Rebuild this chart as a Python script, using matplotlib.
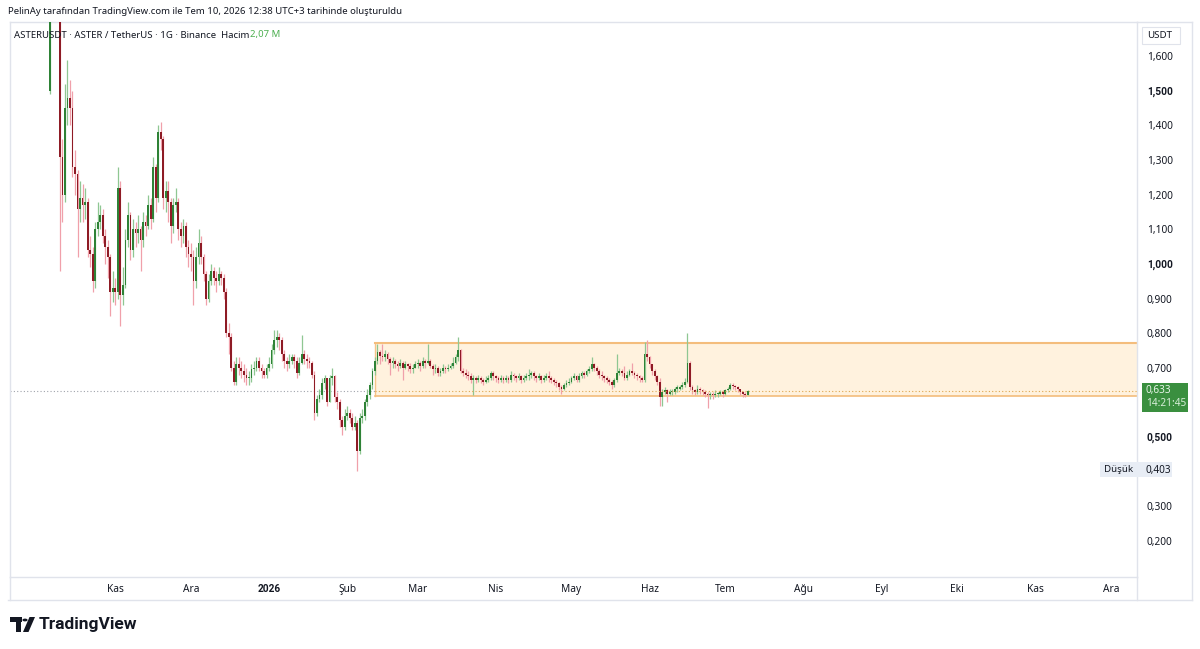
import numpy as np
import pandas as pd
import matplotlib
matplotlib.use("Agg")
import matplotlib.pyplot as plt
import matplotlib.dates as mdates
from matplotlib.patches import Rectangle, Polygon, Circle
from matplotlib.lines import Line2D

plt.rcParams['font.family'] = ['Noto Sans', 'DejaVu Sans']
BOLD_FAMILY = ['Roboto', 'DejaVu Sans']

# daily ASTER/USDT candles, 2025-10-06 .. 2026-07-10
first_open = 1.50
close = [
    1.78, 1.90, 1.86, 1.82, 1.31, 1.20, 1.45, 1.48, 1.45, 1.28,
    1.26, 1.16, 1.19, 1.17, 1.18, 1.04, 1.03, 0.95, 1.10, 1.12,
    1.14, 1.08, 1.05, 1.02, 0.92, 0.93, 0.92, 1.22, 0.91, 0.94,
    1.07, 1.14, 1.04, 1.10, 1.09, 1.10, 1.07, 1.12, 1.11, 1.17,
    1.13, 1.28, 1.19, 1.38, 1.36, 1.19, 1.21, 1.18, 1.11, 1.17,
    1.18, 1.10, 1.08, 1.11, 1.05, 1.03, 1.02, 0.95, 1.02, 1.06,
    1.02, 0.97, 0.90, 0.95, 0.98, 0.96, 0.95, 0.97, 0.96, 0.92,
    0.80, 0.79, 0.70, 0.66, 0.71, 0.70, 0.69, 0.68, 0.67, 0.67,
    0.695, 0.70, 0.72, 0.70, 0.69, 0.68, 0.70, 0.71, 0.75, 0.78,
    0.79, 0.78, 0.74, 0.72, 0.71, 0.72, 0.73, 0.72, 0.685, 0.715,
    0.74, 0.725, 0.72, 0.715, 0.68, 0.57, 0.61, 0.62, 0.655, 0.67,
    0.60, 0.67, 0.675, 0.615, 0.60, 0.55, 0.53, 0.56, 0.57, 0.555,
    0.53, 0.54, 0.46, 0.555, 0.56, 0.60, 0.62, 0.65, 0.69, 0.72,
    0.745, 0.735, 0.73, 0.74, 0.725, 0.715, 0.72, 0.71, 0.705, 0.715,
    0.70, 0.71, 0.705, 0.695, 0.70, 0.71, 0.715, 0.705, 0.72, 0.715,
    0.72, 0.705, 0.695, 0.70, 0.685, 0.69, 0.70, 0.695, 0.70, 0.705,
    0.715, 0.73, 0.75, 0.69, 0.685, 0.68, 0.675, 0.665, 0.67, 0.665,
    0.67, 0.665, 0.66, 0.665, 0.67, 0.685, 0.675, 0.67, 0.665, 0.67,
    0.665, 0.67, 0.665, 0.68, 0.675, 0.67, 0.675, 0.665, 0.67, 0.675,
    0.68, 0.685, 0.675, 0.67, 0.675, 0.665, 0.67, 0.675, 0.67, 0.665,
    0.66, 0.655, 0.645, 0.64, 0.65, 0.655, 0.66, 0.67, 0.675, 0.665,
    0.675, 0.685, 0.68, 0.69, 0.695, 0.71, 0.70, 0.69, 0.68, 0.675,
    0.67, 0.665, 0.66, 0.65, 0.665, 0.685, 0.69, 0.685, 0.67, 0.68,
    0.69, 0.685, 0.68, 0.675, 0.67, 0.665, 0.74, 0.73, 0.71, 0.69,
    0.675, 0.66, 0.615, 0.63, 0.635, 0.625, 0.63, 0.63, 0.64, 0.64,
    0.645, 0.65, 0.66, 0.715, 0.645, 0.635, 0.63, 0.64, 0.635, 0.63,
    0.625, 0.62, 0.625, 0.62, 0.625, 0.625, 0.63, 0.625, 0.635, 0.64,
    0.65, 0.648, 0.645, 0.64, 0.63, 0.625, 0.622, 0.633,
]
high = [
    1.84, 1.98, 1.96, 1.92, 1.86, 1.36, 1.52, 1.59, 1.53, 1.50,
    1.33, 1.27, 1.24, 1.23, 1.22, 1.19, 1.08, 1.05, 1.12, 1.18,
    1.17, 1.16, 1.10, 1.07, 1.03, 0.98, 0.96, 1.28, 1.24, 0.99,
    1.10, 1.18, 1.15, 1.13, 1.12, 1.14, 1.11, 1.15, 1.14, 1.20,
    1.19, 1.31, 1.29, 1.40, 1.41, 1.37, 1.24, 1.24, 1.19, 1.19,
    1.22, 1.19, 1.12, 1.13, 1.12, 1.07, 1.06, 1.04, 1.05, 1.10,
    1.08, 1.03, 0.98, 0.97, 1.00, 0.99, 0.98, 0.99, 0.98, 0.97,
    0.93, 0.83, 0.80, 0.72, 0.73, 0.73, 0.72, 0.71, 0.70, 0.69,
    0.71, 0.72, 0.73, 0.73, 0.71, 0.70, 0.71, 0.73, 0.77, 0.81,
    0.81, 0.80, 0.79, 0.75, 0.73, 0.74, 0.74, 0.74, 0.73, 0.73,
    0.795, 0.75, 0.74, 0.73, 0.72, 0.69, 0.62, 0.64, 0.67, 0.68,
    0.67, 0.68, 0.70, 0.68, 0.63, 0.61, 0.56, 0.58, 0.59, 0.58,
    0.57, 0.56, 0.55, 0.57, 0.58, 0.61, 0.64, 0.66, 0.70, 0.73,
    0.77, 0.75, 0.77, 0.75, 0.745, 0.73, 0.73, 0.725, 0.72, 0.725,
    0.72, 0.72, 0.715, 0.715, 0.71, 0.72, 0.725, 0.72, 0.73, 0.725,
    0.77, 0.725, 0.71, 0.71, 0.705, 0.70, 0.71, 0.705, 0.71, 0.715,
    0.73, 0.74, 0.79, 0.755, 0.70, 0.695, 0.69, 0.685, 0.68, 0.675,
    0.68, 0.675, 0.67, 0.675, 0.68, 0.69, 0.69, 0.68, 0.675, 0.68,
    0.675, 0.68, 0.675, 0.69, 0.685, 0.68, 0.685, 0.68, 0.68, 0.685,
    0.695, 0.69, 0.69, 0.68, 0.685, 0.68, 0.68, 0.685, 0.69, 0.675,
    0.67, 0.665, 0.66, 0.65, 0.655, 0.665, 0.67, 0.675, 0.685, 0.68,
    0.685, 0.69, 0.69, 0.695, 0.705, 0.73, 0.715, 0.705, 0.695, 0.69,
    0.68, 0.675, 0.67, 0.665, 0.67, 0.74, 0.70, 0.695, 0.705, 0.69,
    0.695, 0.715, 0.69, 0.685, 0.68, 0.675, 0.775, 0.78, 0.735, 0.71,
    0.695, 0.68, 0.67, 0.64, 0.645, 0.64, 0.64, 0.64, 0.645, 0.65,
    0.65, 0.66, 0.67, 0.80, 0.72, 0.65, 0.64, 0.65, 0.645, 0.64,
    0.635, 0.63, 0.63, 0.63, 0.635, 0.63, 0.635, 0.635, 0.64, 0.645,
    0.655, 0.655, 0.65, 0.648, 0.64, 0.632, 0.63, 0.636,
]
low = [
    1.49, 1.74, 1.80, 1.76, 0.98, 1.12, 1.18, 1.40, 1.40, 1.25,
    1.20, 1.02, 1.12, 1.12, 1.13, 1.02, 0.99, 0.92, 0.93, 1.08,
    1.10, 1.06, 1.00, 0.96, 0.85, 0.89, 0.88, 0.90, 0.82, 0.88,
    0.93, 1.05, 1.01, 1.02, 1.05, 1.06, 0.98, 1.05, 1.08, 1.10,
    1.10, 1.12, 1.15, 1.18, 1.33, 1.16, 1.15, 1.12, 1.06, 1.09,
    1.15, 1.07, 1.05, 1.06, 1.02, 0.99, 0.98, 0.88, 0.93, 1.00,
    1.00, 0.95, 0.88, 0.89, 0.94, 0.94, 0.92, 0.94, 0.94, 0.90,
    0.79, 0.74, 0.69, 0.65, 0.65, 0.68, 0.67, 0.66, 0.65, 0.65,
    0.66, 0.68, 0.69, 0.69, 0.67, 0.67, 0.67, 0.69, 0.70, 0.74,
    0.76, 0.75, 0.72, 0.70, 0.69, 0.70, 0.71, 0.70, 0.67, 0.68,
    0.71, 0.71, 0.70, 0.70, 0.67, 0.55, 0.56, 0.60, 0.61, 0.64,
    0.59, 0.60, 0.65, 0.60, 0.58, 0.53, 0.506, 0.52, 0.55, 0.54,
    0.52, 0.52, 0.403, 0.45, 0.54, 0.55, 0.59, 0.61, 0.64, 0.68,
    0.71, 0.71, 0.72, 0.72, 0.71, 0.68, 0.70, 0.70, 0.69, 0.70,
    0.665, 0.695, 0.69, 0.685, 0.685, 0.70, 0.70, 0.69, 0.70, 0.70,
    0.71, 0.70, 0.68, 0.685, 0.675, 0.675, 0.685, 0.685, 0.69, 0.695,
    0.70, 0.71, 0.72, 0.685, 0.675, 0.67, 0.665, 0.655, 0.62, 0.655,
    0.66, 0.655, 0.65, 0.655, 0.66, 0.665, 0.665, 0.66, 0.655, 0.66,
    0.655, 0.66, 0.655, 0.66, 0.665, 0.66, 0.665, 0.655, 0.66, 0.665,
    0.665, 0.67, 0.665, 0.66, 0.665, 0.655, 0.66, 0.665, 0.66, 0.655,
    0.65, 0.645, 0.635, 0.625, 0.635, 0.645, 0.65, 0.655, 0.665, 0.66,
    0.66, 0.67, 0.67, 0.675, 0.685, 0.69, 0.69, 0.68, 0.67, 0.665,
    0.66, 0.655, 0.65, 0.64, 0.645, 0.66, 0.68, 0.675, 0.665, 0.665,
    0.675, 0.68, 0.67, 0.665, 0.66, 0.66, 0.66, 0.72, 0.70, 0.68,
    0.665, 0.65, 0.59, 0.59, 0.625, 0.60, 0.62, 0.62, 0.625, 0.63,
    0.635, 0.64, 0.645, 0.655, 0.635, 0.625, 0.62, 0.625, 0.625, 0.62,
    0.615, 0.585, 0.61, 0.61, 0.615, 0.615, 0.62, 0.615, 0.62, 0.63,
    0.635, 0.64, 0.635, 0.63, 0.62, 0.615, 0.615, 0.62,
]
start_date = "2025-10-06"

# range box drawn on the chart
box_start = "2026-02-12"
box_top = 0.772
box_bottom = 0.618
last_price = 0.633
low_price = 0.403

price_ticks = [0.2, 0.3, 0.5, 0.7, 0.8, 0.9, 1.0, 1.1, 1.2, 1.3, 1.4, 1.5, 1.6]
price_labels = ["0,200", "0,300", "0,500", "0,700", "0,800", "0,900", "1,000",
                "1,100", "1,200", "1,300", "1,400", "1,500", "1,600"]
bold_labels = ["0,500", "1,000", "1,500"]
month_starts = ["2025-11-01", "2025-12-01", "2026-01-01", "2026-02-01", "2026-03-01",
                "2026-04-01", "2026-05-01", "2026-06-01", "2026-07-01", "2026-08-01",
                "2026-09-01", "2026-10-01", "2026-11-01", "2026-12-01"]
month_labels = ["Kas", "Ara", "2026", "Şub", "Mar", "Nis", "May", "Haz", "Tem",
                "Ağu", "Eyl", "Eki", "Kas", "Ara"]

W, H = 1200, 649
def fx(x):
    return x / W
def fy(y):
    return 1 - y / H

fig = plt.figure(figsize=(12, 6.49), dpi=100)
fig.patch.set_facecolor("white")
ax = fig.add_axes([fx(10), fy(577), (1137 - 10) / W, (577 - 22) / H])

dates = pd.date_range(start_date, periods=len(close), freq="D")
xs = mdates.date2num(dates)
opens = np.array([first_open] + close[:-1])
closes = np.array(close)
up = closes >= opens

UP_BODY, UP_WICK = "#2e8236", "#8fc792"
DN_BODY, DN_WICK = "#8e1b25", "#f0a0aa"

ax.vlines(xs[up], np.array(low)[up], np.array(high)[up], color=UP_WICK, lw=0.9, zorder=3)
ax.vlines(xs[~up], np.array(low)[~up], np.array(high)[~up], color=DN_WICK, lw=0.9, zorder=3)
bottoms = np.minimum(opens, closes)
heights = np.maximum(np.abs(closes - opens), 0.003)
ax.bar(xs[up], heights[up], bottom=bottoms[up], width=0.7, color=UP_BODY, lw=0, zorder=4)
ax.bar(xs[~up], heights[~up], bottom=bottoms[~up], width=0.7, color=DN_BODY, lw=0, zorder=4)

jan1 = mdates.date2num(pd.Timestamp("2026-01-01"))
x0, x1 = jan1 - 102.8, jan1 + 344.4
ax.set_xlim(x0, x1)
ax.set_ylim(0.0954, 1.699)

# range box
bs = mdates.date2num(pd.Timestamp(box_start))
ax.add_patch(Rectangle((bs, box_bottom), x1 - bs, box_top - box_bottom,
                       facecolor="#fff2de", edgecolor="none", zorder=1))
ax.plot([bs, bs], [box_bottom, box_top], color="#f6c48a", lw=1.0, zorder=2)
ax.plot([bs, x1], [box_top, box_top], color="#f4bd7c", lw=1.5, zorder=2)
ax.plot([bs, x1], [box_bottom, box_bottom], color="#f4bd7c", lw=1.2, zorder=2)

# last price line
ax.plot([x0, bs], [last_price, last_price], color="#a0a3ab", lw=0.8, ls=(0, (1, 2)), zorder=2)
ax.plot([bs, x1], [last_price, last_price], color="#e0a84e", lw=0.8, ls=(0, (1, 2)), zorder=5)

for s in ax.spines.values():
    s.set_color("#e0e3eb")
    s.set_linewidth(1)

ax.yaxis.tick_right()
ax.set_yticks(price_ticks)
ax.set_yticklabels(price_labels)
ax.tick_params(axis="y", length=0, pad=7, labelsize=7.3, labelcolor="#131722")
ax.set_xticks(mdates.date2num(pd.to_datetime(month_starts)))
ax.set_xticklabels(month_labels)
ax.tick_params(axis="x", length=0, pad=5, labelsize=7.3, labelcolor="#131722")

# ticks are built lazily, so draw once before making some labels bold
fig.canvas.draw()
for t in ax.yaxis.get_ticklabels(which="major"):
    if t.get_text() in bold_labels:
        t.set_family(BOLD_FAMILY)
        t.set_fontweight("bold")
for t in ax.xaxis.get_ticklabels(which="major"):
    if t.get_text() == "2026":
        t.set_family(BOLD_FAMILY)
        t.set_fontweight("bold")

# frame lines around price and time scales
line_kw = dict(color="#e0e3eb", lw=1, transform=fig.transFigure)
fig.add_artist(Line2D([fx(8), fx(1192)], [fy(600), fy(600)], **line_kw))
fig.add_artist(Line2D([fx(1192), fx(1192)], [fy(22), fy(600)], **line_kw))
fig.add_artist(Line2D([fx(1137), fx(1192)], [fy(22), fy(22)], **line_kw))
fig.add_artist(Line2D([fx(10), fx(10)], [fy(577), fy(600)], **line_kw))
fig.add_artist(Line2D([fx(1137), fx(1137)], [fy(577), fy(600)], **line_kw))

# header texts
fig.text(fx(8), fy(12), "PelinAy tarafından TradingView.com ile Tem 10, 2026 12:38 UTC+3 tarihinde oluşturuldu",
         fontsize=6.9, color="#131722", va="center", ha="left")
t1 = fig.text(fx(14), fy(35), "ASTERUSDT · ASTER / TetherUS · 1G · Binance  Hacim",
              fontsize=6.9, color="#131722", va="center", ha="left", zorder=10)
ax.annotate("2,07 M", xy=(1, 0), xycoords=t1, xytext=(0.5, 0), textcoords="offset points",
            fontsize=6.9, color="#4caf50", ha="left", va="bottom", annotation_clip=False)

# USDT label
fig.patches.append(Rectangle((fx(1142), fy(44)), 38 / W, 17 / H, transform=fig.transFigure,
                             facecolor="white", edgecolor="#e0e3eb", lw=0.8))
fig.text(fx(1147), fy(35.5), "USDT", fontsize=7, color="#131722", va="center")

# last price label
fig.patches.append(Rectangle((fx(1142), fy(412)), 46 / W, 29 / H, transform=fig.transFigure,
                             facecolor="#3a8f3f", edgecolor="none"))
fig.text(fx(1146), fy(391), "0,633", fontsize=7.2, color="#e8f5e9", va="center")
fig.text(fx(1146), fy(404), "14:21:45", fontsize=7.2, color="#d7eed8", va="center")

# low label
fig.patches.append(Rectangle((fx(1100), fy(477)), 72 / W, 15 / H, transform=fig.transFigure,
                             facecolor="#e8edf5", edgecolor="none"))
fig.text(fx(1104), fy(469.5), "Düşük", fontsize=7, color="#131722", va="center")
fig.text(fx(1145), fy(470), "0,403", fontsize=7.2, color="#131722", va="center")

# TradingView logo
logo_kw = dict(transform=fig.transFigure, facecolor="#131722", edgecolor="none")
fig.patches.append(Rectangle((fx(10), fy(622)), 12 / W, 5 / H, **logo_kw))
fig.patches.append(Rectangle((fx(16), fy(632)), 5 / W, 15 / H, **logo_kw))
fig.patches.append(Circle((fx(25), fy(620)), 2.6 / W, **logo_kw))
fig.patches.append(Polygon([(fx(23), fy(632)), (fx(28.5), fy(632)), (fx(35), fy(617)),
                            (fx(29.5), fy(617))], closed=True, **logo_kw))
fig.text(fx(39), fy(625), "TradingView", fontsize=12.5, fontweight="bold",
         family=BOLD_FAMILY, color="#131722", va="center", ha="left")

fig.savefig("out.png", dpi=100, facecolor="white")
